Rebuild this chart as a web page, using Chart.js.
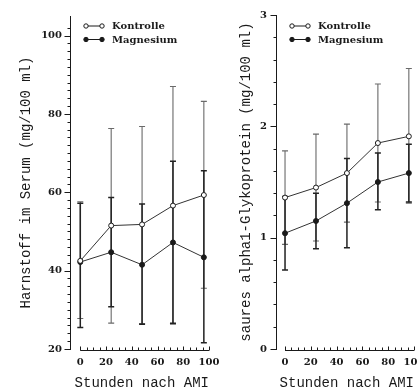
<!DOCTYPE html>
<html>
<head>
<meta charset="utf-8">
<script src="https://cdn.jsdelivr.net/npm/chart.js@4.4.1/dist/chart.umd.min.js"></script>
<style>
    html, body { margin: 0; padding: 0; background: #fff; overflow: hidden; }
    #wrap { position: relative; width: 418px; height: 390px; overflow: hidden; }
    canvas { position: absolute; top: 0; }
    #left-chart { left: 0; }
    #right-chart { left: 215px; }
</style>
</head>
<body>
<div id="wrap">
    <canvas id="left-chart" width="240" height="390"></canvas>
    <canvas id="right-chart" width="230" height="390"></canvas>
</div>
<script>
// --- DATA ---
const hours = [0, 24, 48, 72, 96];
const xTicks = [0, 5, 10, 15, 20, 25, 30, 35, 40, 45, 50, 55, 60, 65, 70, 75, 80, 85, 90, 95, 100];
const xLabels = [0, 20, 40, 60, 80, 100];

// Harnstoff (left panel)
const harnKontrolle = [42.5, 51.5, 51.8, 56.6, 59.3];
const harnKontrolleHigh = [57.6, 76.3, 76.8, 87.0, 83.2];
const harnKontrolleLow = [27.8, 26.6, 26.5, 26.3, 35.5];
const harnMagnesium = [42.2, 44.7, 41.5, 47.2, 43.4];
const harnMagnesiumHigh = [57.2, 58.7, 57.0, 67.9, 65.5];
const harnMagnesiumLow = [25.5, 30.8, 26.3, 26.6, 21.6];
const harnYLabels = [20, 40, 60, 80, 100];

// saures alpha1-Glykoprotein (right panel)
const glykoKontrolle = [1.36, 1.45, 1.58, 1.85, 1.91];
const glykoKontrolleHigh = [1.78, 1.93, 2.02, 2.38, 2.52];
const glykoKontrolleLow = [0.94, 0.97, 1.14, 1.32, 1.31];
const glykoMagnesium = [1.04, 1.15, 1.31, 1.50, 1.58];
const glykoMagnesiumHigh = [1.37, 1.40, 1.71, 1.76, 1.84];
const glykoMagnesiumLow = [0.71, 0.90, 0.91, 1.25, 1.32];
const glykoYLabels = [0, 1, 2, 3];

const SERIF = "'DejaVu Serif', 'Liberation Serif', serif";
const MONO = "'Liberation Mono', 'DejaVu Sans Mono', monospace";
const INK = '#1a1a1a';

const near = (v, list) => list.some(l => Math.abs(l - v) < 1e-6);

// error bars, detached x axis line, tick marks and legend
const paperPlugin = {
    id: 'paper',
    beforeDatasetsDraw(chart) {
        const { ctx, scales: { x, y } } = chart;
        ctx.save();
        chart.data.datasets.forEach(ds => {
            ctx.strokeStyle = ds.barColor;
            ctx.lineWidth = ds.barWidth;
            ds.high.forEach((hi, i) => {
                const px = x.getPixelForValue(hours[i]);
                const top = y.getPixelForValue(hi);
                const bot = y.getPixelForValue(ds.low[i]);
                ctx.beginPath();
                ctx.moveTo(px, top); ctx.lineTo(px, bot);
                ctx.moveTo(px - 3, top); ctx.lineTo(px + 3, top);
                ctx.moveTo(px - 3, bot); ctx.lineTo(px + 3, bot);
                ctx.stroke();
            });
        });
        ctx.restore();
    },
    afterDraw(chart) {
        const { ctx, chartArea, scales: { x, y } } = chart;
        const opts = chart.options.plugins.paper;
        ctx.save();
        ctx.strokeStyle = INK;
        ctx.lineWidth = 1;

        // x axis, starts at 0 and leaves a gap to the y axis
        const yb = Math.round(chartArea.bottom) + 1.5;
        ctx.beginPath();
        ctx.moveTo(x.getPixelForValue(xTicks[0]), yb);
        ctx.lineTo(x.getPixelForValue(xTicks[xTicks.length - 1]), yb);
        xTicks.forEach(v => {
            const px = Math.round(x.getPixelForValue(v)) + 0.5;
            ctx.moveTo(px, yb);
            ctx.lineTo(px, yb - (near(v, xLabels) ? 4 : 3));
        });
        ctx.stroke();

        // y ticks, pointing outwards
        const xl = Math.round(chartArea.left) + 0.5;
        ctx.beginPath();
        y.ticks.forEach(t => {
            const r = t.value / opts.yStep;
            if (Math.abs(r - Math.round(r)) > 1e-6) return;
            const py = Math.round(y.getPixelForValue(t.value)) + 0.5;
            ctx.moveTo(xl, py);
            ctx.lineTo(xl - (near(t.value, opts.yLabels) ? 6 : 3), py);
        });
        ctx.stroke();

        // legend
        ctx.font = `bold 10px ${SERIF}`;
        ctx.textBaseline = 'middle';
        ctx.fillStyle = INK;
        chart.data.datasets.forEach((ds, i) => {
            const ly = 26 + i * 13.5;
            const x0 = chartArea.left + 16, x1 = chartArea.left + 32;
            ctx.beginPath();
            ctx.moveTo(x0, ly); ctx.lineTo(x1, ly);
            ctx.stroke();
            [x0, x1].forEach(cx => {
                ctx.beginPath();
                ctx.arc(cx, ly, 2.2, 0, Math.PI * 2);
                ctx.fillStyle = ds.pointBackgroundColor;
                ctx.fill();
                ctx.stroke();
            });
            ctx.fillStyle = INK;
            ctx.fillText(ds.label, chartArea.left + 42, ly + 0.5);
        });
        ctx.restore();
    }
};

function series(label, values, high, low, open) {
    return {
        label,
        data: hours.map((h, i) => ({ x: h, y: values[i] })),
        high, low,
        borderColor: '#333',
        borderWidth: 1,
        tension: 0,
        pointRadius: 2.5,
        pointBorderWidth: 1,
        pointBorderColor: INK,
        pointBackgroundColor: open ? '#fff' : INK,
        barColor: open ? '#6a6a6a' : '#222',
        barWidth: open ? 1.1 : 1.5
    };
}

function makeChart(id, cfg) {
    return new Chart(document.getElementById(id), {
        type: 'line',
        data: { datasets: cfg.datasets },
        options: {
            responsive: false,
            animation: false,
            layout: { padding: { top: cfg.top, right: 31, bottom: 0, left: 0 } },
            plugins: {
                legend: { display: false },
                tooltip: { enabled: false },
                paper: { yStep: cfg.yStep, yLabels: cfg.yLabels }
            },
            scales: {
                x: {
                    type: 'linear',
                    min: cfg.xMin,
                    max: 100,
                    afterBuildTicks: s => { s.ticks = xTicks.map(v => ({ value: v })); },
                    afterFit: s => { s.height = 41; },
                    grid: { display: false, drawTicks: false },
                    border: { display: false },
                    ticks: {
                        autoSkip: false,
                        maxRotation: 0,
                        padding: 7,
                        color: INK,
                        font: { family: SERIF, size: 10, weight: 'bold' },
                        callback: v => near(v, xLabels) ? String(v) : ''
                    },
                    title: {
                        display: true,
                        text: 'Stunden nach AMI',
                        align: 'end',
                        color: INK,
                        padding: { top: 0, bottom: 0 },
                        font: { family: MONO, size: 14, lineHeight: 1 }
                    }
                },
                y: {
                    min: cfg.yMin,
                    max: cfg.yMax,
                    afterFit: s => { s.width = cfg.yWidth; },
                    grid: { display: false, drawTicks: false },
                    border: { display: true, color: INK, width: 1 },
                    ticks: {
                        stepSize: cfg.yStep,
                        autoSkip: false,
                        padding: cfg.yPad,
                        color: INK,
                        font: { family: SERIF, size: 10, weight: 'bold' },
                        callback: v => near(v, cfg.yLabels) ? String(v) : ''
                    },
                    title: {
                        display: true,
                        text: cfg.yTitle,
                        color: INK,
                        padding: { top: cfg.titlePad, bottom: 0 },
                        font: { family: MONO, size: 14, lineHeight: 1 }
                    }
                }
            }
        },
        plugins: [paperPlugin]
    });
}

makeChart('left-chart', {
    datasets: [
        series('Kontrolle', harnKontrolle, harnKontrolleHigh, harnKontrolleLow, true),
        series('Magnesium', harnMagnesium, harnMagnesiumHigh, harnMagnesiumLow, false)
    ],
    xMin: -8, yMin: 20, yMax: 105, yStep: 2, yLabels: harnYLabels,
    yTitle: 'Harnstoff im Serum (mg/100 ml)',
    top: 16, yWidth: 70, yPad: 8, titlePad: 19
});

makeChart('right-chart', {
    datasets: [
        series('Kontrolle', glykoKontrolle, glykoKontrolleHigh, glykoKontrolleLow, true),
        series('Magnesium', glykoMagnesium, glykoMagnesiumHigh, glykoMagnesiumLow, false)
    ],
    xMin: -7, yMin: 0, yMax: 3, yStep: 0.2, yLabels: glykoYLabels,
    yTitle: 'saures alpha1-Glykoprotein (mg/100 ml)',
    top: 12, yWidth: 61, yPad: 9, titlePad: 24
});
</script>
</body>
</html>
